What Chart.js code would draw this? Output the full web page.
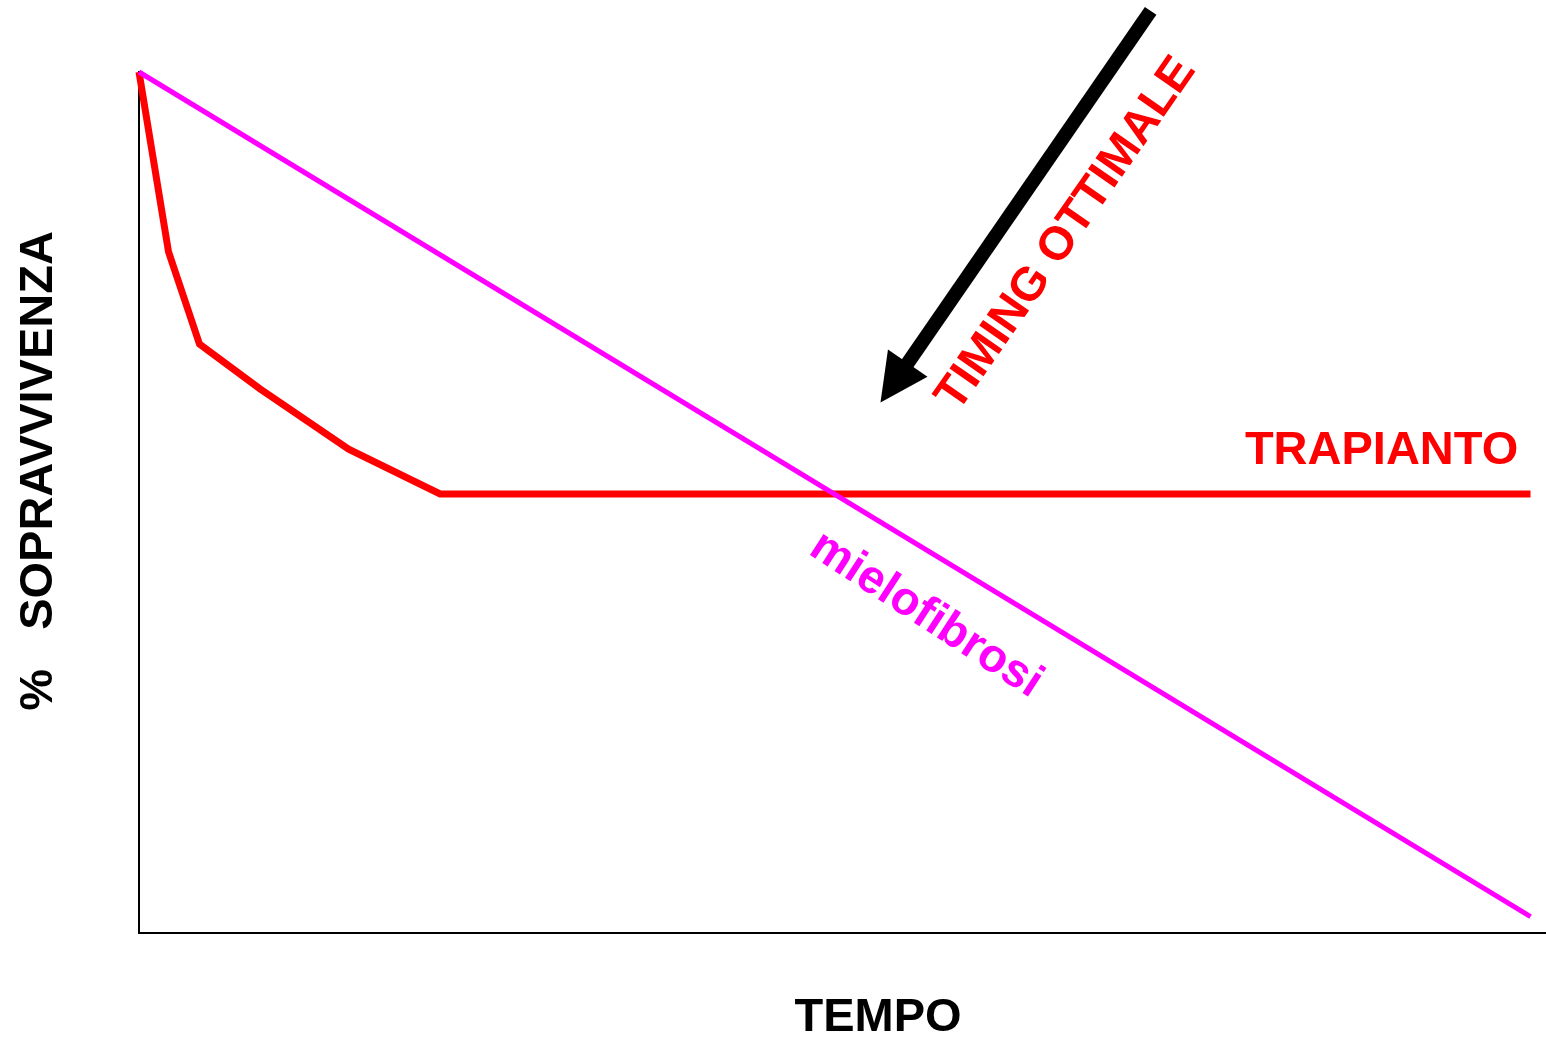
<!DOCTYPE html>
<html>
<head>
<meta charset="utf-8">
<script src="https://cdn.jsdelivr.net/npm/chart.js@4/dist/chart.umd.min.js"></script>
<style>
  html, body { margin: 0; padding: 0; background: #fff; }
  #wrap { width: 1546px; height: 1039px; position: relative; }
</style>
</head>
<body>
<div id="wrap"><canvas id="c" width="1546" height="1039"></canvas></div>
<script>
// ---- data (x = tempo, y = % sopravvivenza, arbitrary units 0-100) ----
const trapiantoX = [0, 2.1, 4.3, 8.6, 14.9, 21.4, 98.9];
const trapiantoY = [100, 79.1, 68.4, 63.2, 56.2, 51.0, 51.0];
const mielofibrosiX = [0, 98.9];
const mielofibrosiY = [100, 1.9];

const xTitle = 'TEMPO';
const yTitle = '%   SOPRAVVIVENZA';
const labelTrapianto = 'TRAPIANTO';
const labelMielofibrosi = 'mielofibrosi';
const labelTiming = 'TIMING OTTIMALE';

// annotation anchors in data units
const trapiantoLabelAt = [78.6, 54.5];
const mieloLabelAt = [47.5, 44.1];
const timingLabelAt = [58.2, 60.4];
const arrowFrom = [71.9, 107.1];
const arrowTo = [52.7, 61.6];

const toPts = (xs, ys) => xs.map((x, i) => ({ x: x, y: ys[i] }));

const FONT = '"Liberation Sans", Arial, Helvetica, sans-serif';

const annotations = {
  id: 'annotations',
  afterDatasetsDraw(chart) {
    const ctx = chart.ctx;
    const sx = chart.scales.x, sy = chart.scales.y;
    const px = v => sx.getPixelForValue(v);
    const py = v => sy.getPixelForValue(v);
    ctx.save();

    // TRAPIANTO
    ctx.font = 'bold 47px ' + FONT;
    ctx.fillStyle = '#ff0000';
    ctx.textAlign = 'left';
    ctx.textBaseline = 'alphabetic';
    ctx.fillText(labelTrapianto, px(trapiantoLabelAt[0]), py(trapiantoLabelAt[1]));

    // mielofibrosi
    ctx.save();
    ctx.translate(px(mieloLabelAt[0]), py(mieloLabelAt[1]));
    ctx.rotate(33 * Math.PI / 180);
    ctx.fillStyle = '#ff00ff';
    ctx.fillText(labelMielofibrosi, 0, 0);
    ctx.restore();

    // TIMING OTTIMALE
    ctx.save();
    ctx.translate(px(timingLabelAt[0]), py(timingLabelAt[1]));
    ctx.rotate(-55.2 * Math.PI / 180);
    ctx.fillStyle = '#ff0000';
    ctx.fillText(labelTiming, 0, 0);
    ctx.restore();

    // arrow
    const x1 = px(arrowFrom[0]), y1 = py(arrowFrom[1]);
    const x2 = px(arrowTo[0]), y2 = py(arrowTo[1]);
    const ang = Math.atan2(y2 - y1, x2 - x1);
    const headLen = 48, headHalf = 24;
    const bx = x2 - headLen * Math.cos(ang), by = y2 - headLen * Math.sin(ang);
    ctx.strokeStyle = '#000';
    ctx.fillStyle = '#000';
    ctx.lineWidth = 14;
    ctx.lineCap = 'butt';
    ctx.beginPath();
    ctx.moveTo(x1, y1);
    ctx.lineTo(bx + 2 * Math.cos(ang), by + 2 * Math.sin(ang));
    ctx.stroke();
    ctx.beginPath();
    ctx.moveTo(x2, y2);
    ctx.lineTo(bx + headHalf * Math.sin(ang), by - headHalf * Math.cos(ang));
    ctx.lineTo(bx - headHalf * Math.sin(ang), by + headHalf * Math.cos(ang));
    ctx.closePath();
    ctx.fill();

    // axis titles
    ctx.fillStyle = '#000';
    ctx.font = 'bold 47px ' + FONT;
    ctx.textAlign = 'center';
    ctx.fillText(xTitle, 878, 1031);
    ctx.save();
    ctx.translate(52, 471);
    ctx.rotate(-Math.PI / 2);
    ctx.fillText(yTitle, 0, 0);
    ctx.restore();

    ctx.restore();
  }
};

new Chart(document.getElementById('c'), {
  type: 'line',
  data: {
    datasets: [
      {
        label: 'mielofibrosi',
        data: toPts(mielofibrosiX, mielofibrosiY),
        borderColor: '#ff00ff',
        borderWidth: 5,
        pointRadius: 0,
        fill: false,
        tension: 0,
        clip: false
      },
      {
        label: 'trapianto',
        data: toPts(trapiantoX, trapiantoY),
        borderColor: '#ff0000',
        borderWidth: 7,
        pointRadius: 0,
        fill: false,
        tension: 0,
        borderJoinStyle: 'miter',
        clip: false
      }
    ]
  },
  options: {
    responsive: false,
    animation: false,
    events: [],
    layout: { padding: { left: 139, top: 72, right: 0, bottom: 106 } },
    plugins: { legend: { display: false }, tooltip: { enabled: false } },
    scales: {
      x: {
        type: 'linear', min: 0, max: 100,
        ticks: { display: false },
        grid: { display: false, drawTicks: false },
        border: { display: true, color: '#000', width: 2 }
      },
      y: {
        type: 'linear', min: 0, max: 100,
        ticks: { display: false },
        grid: { display: false, drawTicks: false },
        border: { display: true, color: '#000', width: 2 }
      }
    }
  },
  plugins: [annotations]
});
</script>
</body>
</html>
